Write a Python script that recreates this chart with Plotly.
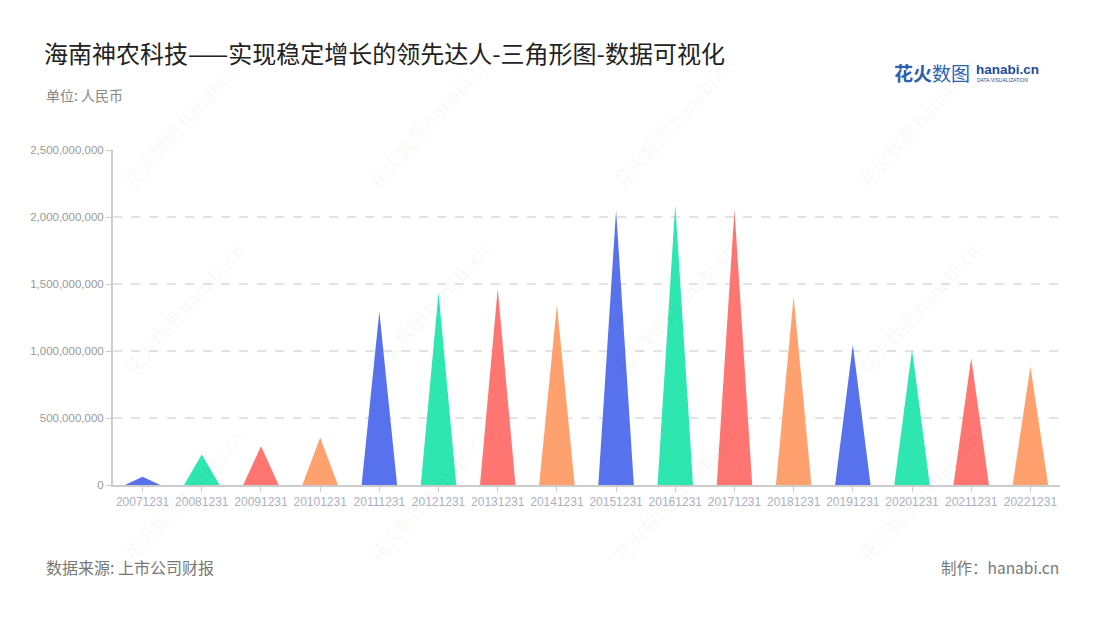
import plotly.graph_objects as go

# ---- data ----
dates = ["20071231", "20081231", "20091231", "20101231", "20111231", "20121231",
         "20131231", "20141231", "20151231", "20161231", "20171231", "20181231",
         "20191231", "20201231", "20211231", "20221231"]
values = [62e6, 228e6, 290e6, 355e6, 1295e6, 1437e6, 1465e6, 1345e6,
          2050e6, 2095e6, 2055e6, 1407e6, 1046e6, 1009e6, 947e6, 884e6]
palette = ["#5872EE", "#2EE6B0", "#FF7571", "#FFA16F"]
y_ticks = [0, 5e8, 1e9, 1.5e9, 2e9, 2.5e9]

title_text = "海南神农科技——实现稳定增长的领先达人-三角形图-数据可视化"
subtitle_text = "单位: 人民币"
source_text = "数据来源: 上市公司财报"
credit_text = "制作：hanabi.cn"

W, H = 1100, 620
OFF = 8  # page body margin offset
# target pixel positions in the screenshot
PL, PR, PT, PB = 113, 1060, 150, 485
L = PL - OFF
T = PT - OFF
R = W - PR + OFF
B = H - PB + OFF
half_w = 0.3

CJK = "Noto Sans CJK SC"

fig = go.Figure()
for i, (d, v) in enumerate(zip(dates, values)):
    c = palette[i % len(palette)]
    fig.add_trace(go.Scatter(
        x=[i - half_w, i, i + half_w, i - half_w],
        y=[0, v, 0, 0],
        fill="toself", fillcolor=c, mode="lines",
        line=dict(width=0, color=c),
        name=d, showlegend=False, hoverinfo="skip"))

pw = PR - PL
ph = PB - PT

def px(xp):
    return (xp - PL) / pw

def py(yp):
    return (PB - yp) / ph

annotations = []
# watermarks
for cy in [121, 308, 495]:
    for cx in [183, 428, 673, 918]:
        annotations.append(dict(
            x=px(cx), y=py(cy), xref="paper", yref="paper",
            text="花火数图 hanabi.cn", showarrow=False, textangle=-48,
            font=dict(family=CJK, size=19, color="rgba(0,0,0,0.04)"),
            xanchor="center", yanchor="middle"))

annotations += [
    dict(x=px(44), y=py(95), xref="paper", yref="paper", text=subtitle_text,
         showarrow=False, xanchor="left", yanchor="middle",
         font=dict(family=CJK, size=14, color="#888888")),
    dict(x=px(44), y=py(567), xref="paper", yref="paper", text=source_text,
         showarrow=False, xanchor="left", yanchor="middle",
         font=dict(family=CJK, size=16, color="#777777")),
    dict(x=px(1061), y=py(567), xref="paper", yref="paper", text=credit_text,
         showarrow=False, xanchor="right", yanchor="middle",
         font=dict(family=CJK, size=15.5, color="#777777")),
    # logo
    dict(x=px(892), y=py(73), xref="paper", yref="paper", text="<b>花火</b>数图",
         showarrow=False, xanchor="left", yanchor="middle",
         font=dict(family=CJK, size=19, color="#2C5FB0")),
    dict(x=px(974), y=py(70), xref="paper", yref="paper", text="<b>hanabi.cn</b>",
         showarrow=False, xanchor="left", yanchor="middle",
         font=dict(family="Liberation Sans", size=13.5, color="#1E4C9A")),
    dict(x=px(975), y=py(80), xref="paper", yref="paper", text="DATA VISUALIZATION",
         showarrow=False, xanchor="left", yanchor="middle",
         font=dict(family="Liberation Sans", size=5, color="#1E4C9A")),
]

fig.update_layout(
    width=W, height=H,
    margin=dict(l=L, r=R, t=T, b=B),
    paper_bgcolor="white", plot_bgcolor="white",
    title=dict(text=title_text, xref="container", yref="container",
               x=(44 - OFF) / W, y=1 - (55 - OFF) / H, xanchor="left", yanchor="middle",
               font=dict(family=CJK, size=24, color="#222222")),
    annotations=annotations,
    xaxis=dict(range=[-0.5, len(dates) - 0.5], tickvals=list(range(len(dates))),
               ticktext=dates, showline=True, linecolor="#cccccc", linewidth=2,
               ticks="outside", ticklen=5, tickcolor="#cccccc", showgrid=False,
               zeroline=False,
               tickfont=dict(family="Liberation Sans", size=12, color="#aab0bf")),
    yaxis=dict(range=[0, 2.5e9], tickvals=y_ticks, tickformat=",",
               showline=True, linecolor="#cccccc", linewidth=2,
               ticks="outside", ticklen=5, tickcolor="#cccccc",
               gridcolor="#e3e3e3", griddash="dash", gridwidth=1.5, zeroline=False,
               tickfont=dict(family="Liberation Sans", size=11.5, color="#999999")),
)

fig.write_html("out.html")
